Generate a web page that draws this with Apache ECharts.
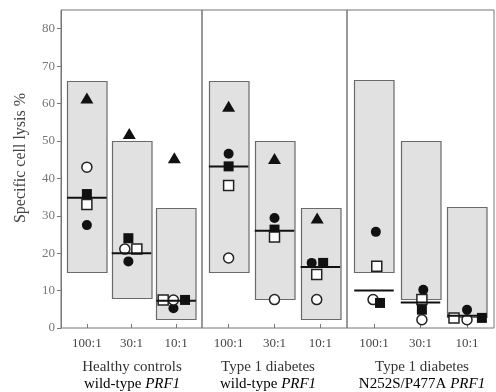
<!DOCTYPE html>
<html><head><meta charset="utf-8">
<script src="https://cdn.jsdelivr.net/npm/echarts@6/dist/echarts.min.js"></script>
<style>html,body{margin:0;padding:0;background:#fff}#c{width:496px;height:392px}</style>
</head><body><div id="c"></div>
<script>
const categories = ['100:1', '30:1', '10:1'];
const yTicks = [0, 10, 20, 30, 40, 50, 60, 70, 80];
const yTitle = 'Specific cell lysis %';
const panelTitle1 = ['Healthy controls', 'Type 1 diabetes', 'Type 1 diabetes'];
const panelTitle2 = ['wild-type ', 'wild-type ', 'N252S/P477A '];
const geneName = 'PRF1';

// normal range boxes (low, high) per panel per category
const rangeLow = [[15, 8, 2.2], [15, 7.7, 2.2], [15, 7.7, 3]];
const rangeHigh = [[66, 50, 32], [66, 50, 32], [66.4, 50, 32.4]];
const medians = [[34.8, 20, 7.3], [43.2, 26, 16.3], [10, 6.8, 3.3]];

// individual donors (values and horizontal jitter in category units)
const triangleVals = [[61.5, 52, 45.5], [59.3, 45.3, 29.4], [null, null, null]];
const triangleJit = [[0, -0.05, -0.04], [0, 0, -0.07], [0, 0, 0]];
const filledCircleVals = [[27.5, 17.8, 5.3], [46.6, 29.4, 17.4], [25.7, 10.2, 4.9]];
const filledCircleJit = [[0, -0.07, -0.06], [0, 0, -0.19], [0.04, 0.06, 0]];
const openCircleVals = [[43, 21.1, 7.5], [18.7, 7.6, 7.6], [7.6, 2.2, 2.2]];
const openCircleJit = [[0, -0.15, -0.06], [0, 0, -0.08], [-0.02, 0.03, 0]];
const filledSquareVals = [[35.8, 24, 7.5], [43.2, 26.3, 17.4], [6.7, 4.9, 2.7]];
const filledSquareJit = [[0, -0.07, 0.2], [0, 0, 0.06], [0.13, 0.03, 0.32]];
const openSquareVals = [[33, 21.1, 7.5], [38.1, 24.3, 14.3], [16.5, 7.6, 2.7]];
const openSquareJit = [[0, 0.12, -0.29], [0, 0, -0.08], [0.06, 0.03, -0.28]];

const SERIF = '"Liberation Serif", "DejaVu Serif", serif';
const panels = [{ left: 61, width: 141, title: 132 }, { left: 202, width: 145, title: 268 }, { left: 347, width: 147, title: 422 }];
const BOXW = 39.5;

const grid = panels.map(p => ({ left: p.left, width: p.width, top: 10, height: 318, show: true, borderColor: '#777', borderWidth: 1, backgroundColor: 'transparent' }));
const xAxis = panels.map((p, k) => ({
  gridIndex: k, type: 'value', min: -0.58, max: 2.58,
  axisLine: { show: false }, splitLine: { show: false },
  axisTick: { show: true, inside: true, length: 4, customValues: [0, 1, 2], lineStyle: { color: '#777' } },
  axisLabel: { customValues: [0, 1, 2], formatter: v => categories[Math.round(v)], fontFamily: SERIF, fontSize: 13, color: '#444', margin: 9 }
}));
const yAxis = panels.map((p, k) => k === 0 ? ({
  gridIndex: 0, type: 'value', min: 0, max: 85,
  axisLine: { show: true, onZero: false, lineStyle: { color: '#777' } }, splitLine: { show: false },
  axisTick: { show: true, length: 4, customValues: yTicks, lineStyle: { color: '#777' } },
  axisLabel: { customValues: yTicks, fontFamily: SERIF, fontSize: 13, color: '#777', margin: 6 }
}) : ({
  gridIndex: k, type: 'value', min: 0, max: 85,
  axisLine: { show: false }, axisTick: { show: false }, axisLabel: { show: false }, splitLine: { show: false }
}));

const series = [];
panels.forEach((p, k) => {
  series.push({
    type: 'custom', xAxisIndex: k, yAxisIndex: k, z: 1,
    data: categories.map((c, i) => [i, rangeLow[k][i], rangeHigh[k][i]]),
    encode: { x: 0, y: [1, 2] },
    renderItem: (params, api) => {
      const top = api.coord([api.value(0), api.value(2)]);
      const bot = api.coord([api.value(0), api.value(1)]);
      return { type: 'rect', shape: { x: Math.round(top[0] - BOXW / 2) + 0.5, y: Math.round(top[1]) + 0.5, width: BOXW, height: Math.round(bot[1] - top[1]) },
        style: { fill: '#e1e1e1', stroke: '#6a6a6a', lineWidth: 1.2 } };
    }
  });
  const marker = (vals, jit, symbol, size, open) => ({
    type: 'scatter', xAxisIndex: k, yAxisIndex: k, z: 3, symbol, symbolSize: size,
    data: categories.map((c, i) => [i + jit[k][i], vals[k][i]]).filter(d => d[1] != null),
    itemStyle: open ? { color: '#fff', borderColor: '#222', borderWidth: 1.5, opacity: 1 } : { color: '#111', opacity: 1 },
    emphasis: { disabled: true }
  });
  series.push(marker(triangleVals, triangleJit, 'triangle', [13, 11], false));
  series.push(marker(filledCircleVals, filledCircleJit, 'circle', 10, false));
  series.push(marker(openCircleVals, openCircleJit, 'circle', 10, true));
  series.push(marker(filledSquareVals, filledSquareJit, 'rect', 10, false));
  series.push(marker(openSquareVals, openSquareJit, 'rect', 10, true));
  series.push({
    type: 'custom', xAxisIndex: k, yAxisIndex: k, z: 4,
    data: categories.map((c, i) => [i, medians[k][i]]),
    encode: { x: 0, y: 1 },
    renderItem: (params, api) => {
      const pt = api.coord([api.value(0), api.value(1)]);
      return { type: 'line', shape: { x1: pt[0] - BOXW / 2, y1: pt[1], x2: pt[0] + BOXW / 2, y2: pt[1] }, style: { stroke: '#111', lineWidth: 2 } };
    }
  });
});

const graphic = [{
  type: 'text', x: 21, y: 158, rotation: Math.PI / 2,
  style: { text: yTitle, font: '16px ' + SERIF, fill: '#444', textAlign: 'center', textVerticalAlign: 'middle' }
}];
panels.forEach((p, k) => {
  graphic.push({ type: 'text', x: p.title, y: 367, style: { text: panelTitle1[k], font: '15px ' + SERIF, fill: '#333', textAlign: 'center', textVerticalAlign: 'middle' } });
  graphic.push({ type: 'text', x: p.title, y: 384, style: { text: '{a|' + panelTitle2[k] + '}{b|' + geneName + '}', textAlign: 'center', textVerticalAlign: 'middle',
    rich: { a: { fontFamily: SERIF, fontSize: 15, color: '#333' }, b: { fontFamily: SERIF, fontSize: 15, fontStyle: 'italic', color: '#333' } } } });
});

const chart = echarts.init(document.getElementById('c'), null, { renderer: 'canvas' });
chart.setOption({ animation: false, backgroundColor: '#fff', grid, xAxis, yAxis, series, graphic });
</script></body></html>
